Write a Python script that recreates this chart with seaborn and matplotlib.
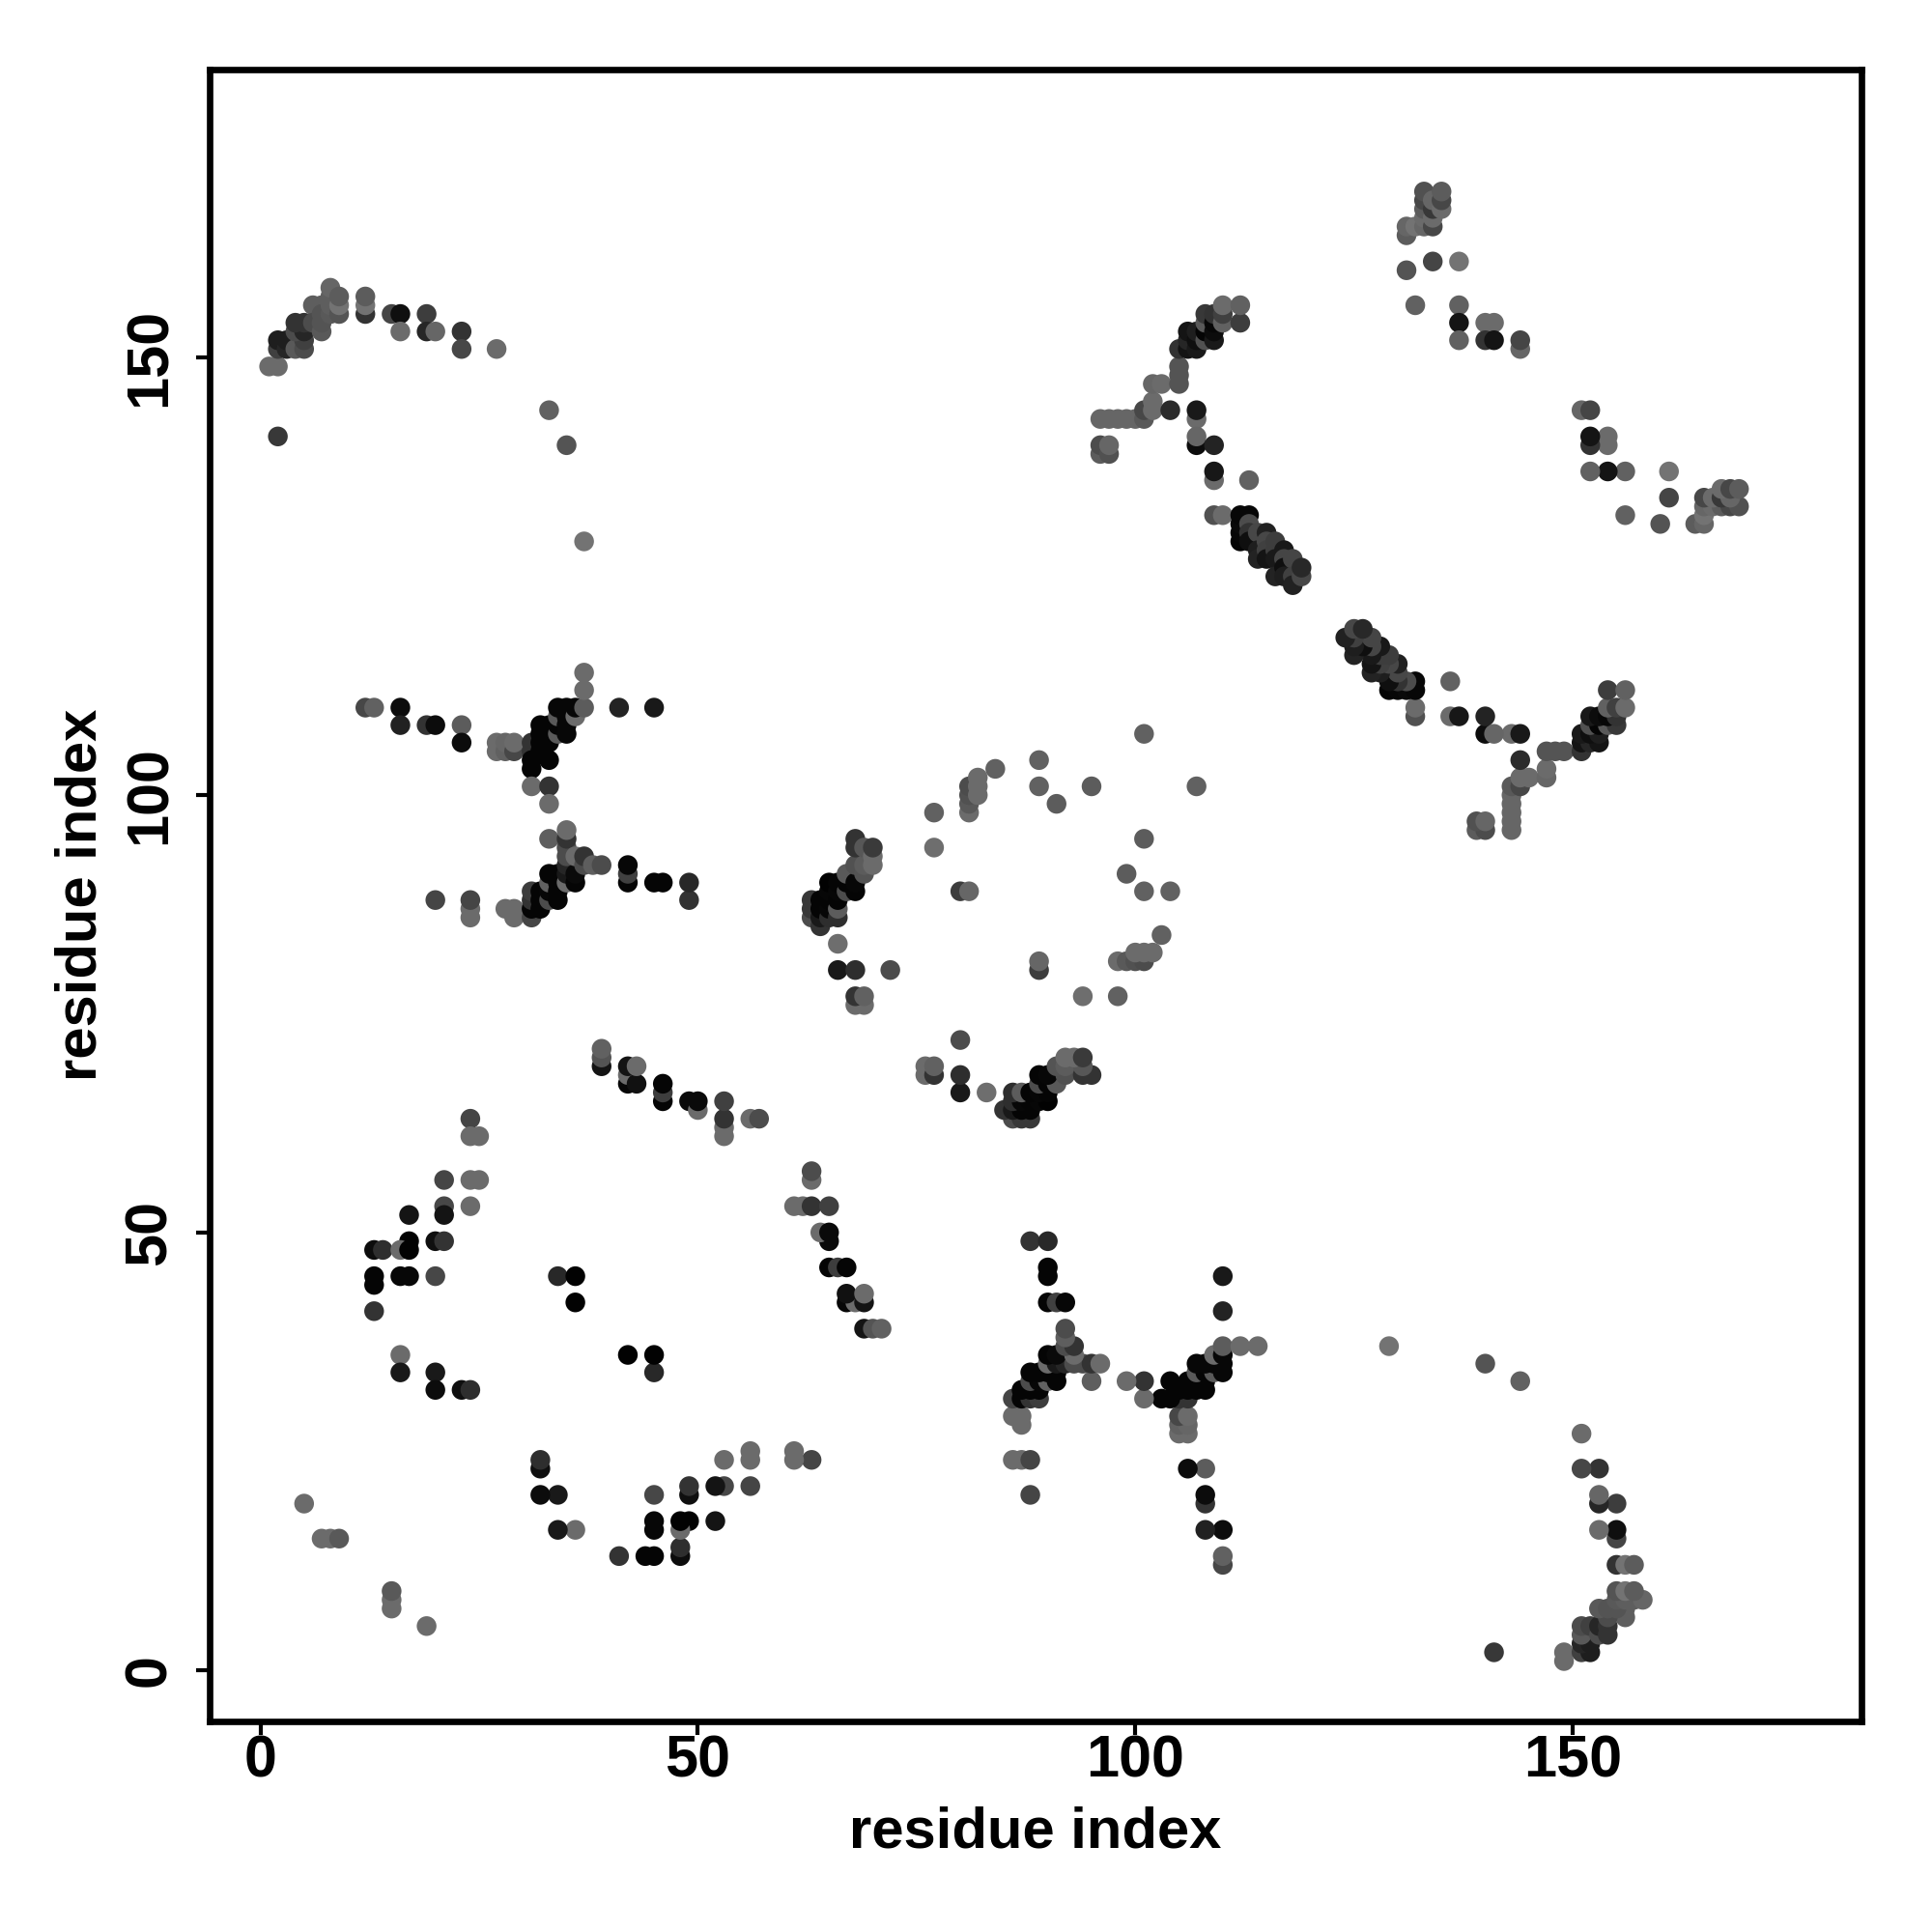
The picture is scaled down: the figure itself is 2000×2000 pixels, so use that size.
import pandas as pd
import matplotlib
matplotlib.use("Agg")
import matplotlib.pyplot as plt
import seaborn as sns

# contacts as (residue i, residue j, grey level), read for i < j only: the map is symmetric
arc_top_left = [
    (1,149,.42),(2,149,.42),(2,141,.22),(2,151,.25),(2,152,.12),(3,151,.15),(3,152,.12),
    (4,151,.35),(5,151,.3),(5,152,.25),(4,153,.3),(5,153,.15),(4,154,.2),(5,154,.2),
    (6,156,.37),(7,156,.37),(6,154,.3),(7,153,.35),(7,154,.33),(7,155,.33),
    (8,155,.35),(8,156,.37),(8,157,.37),(8,158,.4),(9,155,.33),(9,156,.45),(9,157,.36),
    (12,155,.2),(12,156,.45),(12,157,.36),(15,155,.27),(16,155,.06),(16,153,.42),
    (19,155,.24),(19,153,.15),(20,153,.4),(23,153,.2),(23,151,.28),(27,151,.42),
    (33,144,.38),(35,140,.33),(37,129,.45),
]
upper_wing = [
    (12,110,.28),(13,110,.38),(16,110,.05),(16,108,.13),(19,108,.2),(20,108,.05),
    (23,108,.36),(23,106,.05),(27,105,.42),(27,106,.42),(28,105,.38),(28,106,.4),
    (29,105,.28),(29,106,.42),(31,106,.2),(31,105,.2),(31,104,.02),(31,103,.02),
    (31,101,.42),(33,101,.2),(33,99,.42),(32,105,.02),(32,106,.02),(32,107,.02),(32,108,.02),
    (33,104,.02),(33,106,.02),(33,107,.02),(33,108,.02),(34,107,.35),(34,108,.02),
    (34,109,.35),(34,110,.03),(35,107,.03),(35,108,.03),(35,109,.03),(35,110,.03),
    (36,109,.42),(36,110,.03),(37,110,.36),(37,112,.42),(37,114,.42),(41,110,.14),(45,110,.1),
]
lower_wing = [
    (20,88,.27),(24,86,.42),(24,87,.42),(24,88,.27),(28,87,.42),(29,86,.42),(29,87,.42),
    (31,86,.27),(31,87,.02),(31,88,.2),(31,89,.24),(32,87,.02),(32,88,.02),(32,89,.02),
    (33,88,.3),(33,89,.03),(33,90,.38),(33,91,.02),(34,88,.02),(34,89,.02),(34,90,.02),(34,91,.02),
    (33,95,.37),(35,90,.42),(35,91,.1),(35,92,.15),(35,93,.3),(35,94,.3),(35,95,.2),(35,96,.42),
    (36,90,.02),(36,91,.04),(36,93,.42),(37,92,.3),(37,93,.2),(38,92,.37),(39,92,.3),
    (42,90,.02),(42,91,.25),(42,92,.03),(45,90,.02),(46,90,.02),(49,88,.2),(49,90,.16),
]
upper_right_arm = [
    (96,139,.36),(96,140,.3),(97,139,.32),(97,140,.4),(96,143,.4),(97,143,.4),(98,143,.4),
    (99,143,.4),(100,143,.4),(101,143,.35),(101,144,.28),(102,144,.42),(102,145,.42),
    (102,147,.4),(103,147,.42),(104,144,.17),(105,147,.33),(105,148,.33),(105,149,.33),
    (105,151,.2),(106,151,.08),(106,152,.15),(106,153,.08),(107,151,.1),(107,152,.06),
    (107,153,.12),(108,152,.32),(108,153,.02),(108,154,.35),(108,155,.22),(109,152,.1),
    (109,153,.05),(109,154,.03),(109,155,.2),(110,154,.38),(110,155,.25),(110,156,.42),
    (112,154,.24),(112,156,.38),(107,143,.42),(107,144,.1),(107,140,.05),
    (107,141,.4),(109,140,.14),(109,136,.42),(109,137,.09),(113,136,.38),(109,132,.32),(110,132,.42),
]
anti_diagonal = [
    (112,129,.02),(112,130,.03),(112,131,.04),(112,132,.03),(113,132,.03),(113,131,.3),
    (113,130,.2),(113,129,.06),(114,130,.28),(114,128,.12),(114,127,.14),(115,130,.13),
    (115,129,.28),(115,128,.25),(115,127,.08),(116,129,.24),(116,128,.24),(116,127,.1),
    (116,125,.14),(117,128,.1),(117,127,.27),(117,126,.06),(117,125,.12),(118,127,.27),
    (118,125,.25),(118,124,.13),(119,125,.28),(119,126,.16),
]
far_top = [
    (131,164,.36),(131,165,.4),(132,165,.45),(133,165,.4),(133,166,.42),(133,167,.36),
    (133,168,.28),(133,169,.32),(134,165,.28),(134,166,.42),(134,167,.22),(134,168,.4),
    (135,167,.42),(135,168,.28),(135,169,.36),(131,160,.33),(134,161,.27),(137,161,.45),
    (132,156,.38),(137,156,.38),(137,154,.08),(137,152,.38),(140,154,.42),(141,154,.42),
    (140,152,.2),(141,152,.08),(144,151,.4),(144,152,.27),
]
# residues 63-72 against 76-95, then the ring around 90
ring = [
    (63,86,.3),(63,87,.22),(63,88,.22),(64,85,.2),(64,86,.1),(64,87,.02),(64,88,.02),
    (65,86,.18),(65,87,.03),(65,88,.02),(65,89,.03),(65,90,.01),(66,86,.18),(66,87,.36),
    (66,88,.02),(66,89,.03),(66,90,.02),(67,89,.3),(67,90,.02),(67,91,.35),(68,89,.02),
    (68,90,.03),(68,92,.32),(69,91,.33),(69,92,.36),(68,94,.2),(68,95,.2),(69,94,.34),
    (70,92,.42),(70,93,.42),(70,94,.23),(66,83,.43),(66,80,.1),(68,80,.18),(72,80,.3),
    (68,76,.42),(69,76,.42),(68,77,.2),(69,77,.38),
    (77,94,.43),(77,98,.38),(81,98,.42),(81,99,.35),(81,100,.32),(81,101,.3),
    (82,100,.42),(82,101,.42),(82,102,.42),(84,103,.38),(89,101,.38),(89,104,.38),
    (91,99,.36),(95,101,.36),(80,89,.24),(81,89,.4),(101,107,.38),
]
strand = [
    (39,69,.08),(39,70,.33),(39,71,.38),(42,67,.03),(42,68,.42),(42,69,.08),(43,67,.07),(43,69,.42),
    (46,65,.02),(46,66,.24),(46,67,.02),(49,65,.04),(50,64,.42),(50,65,.04),(53,61,.42),
    (53,62,.42),(53,63,.2),(53,65,.25),(56,63,.42),(57,63,.3),
]
low_left = [
    (5,19,.42),(7,15,.42),(8,15,.42),(9,15,.35),
    (24,63,.27),(24,61,.42),(25,61,.42),(21,56,.27),(24,56,.42),(25,56,.42),(21,53,.28),
    (24,53,.42),(17,52,.08),(21,52,.08),(20,49,.06),(21,49,.2),(17,49,.01),(13,48,.05),
    (14,48,.18),(16,48,.42),(17,48,.01),(13,44,.02),(13,45,.02),(16,45,.03),(17,45,.03),
    (20,45,.28),(13,41,.2),(34,45,.16),(36,45,.01),(36,42,.01),(16,36,.42),(16,34,.1),
    (20,34,.1),(20,32,.05),(23,32,.06),(24,32,.18),
]

contacts = pd.DataFrame(
    arc_top_left + upper_wing + lower_wing + upper_right_arm + anti_diagonal
    + far_top + ring + strand + low_left,
    columns=["i", "j", "shade"],
)
mirrored = contacts.rename(columns={"i": "j", "j": "i"})
all_contacts = pd.concat([contacts, mirrored], ignore_index=True)

sns.set_theme(style="white")
plt.rcParams["font.family"] = ["Liberation Sans", "DejaVu Sans"]
plt.rcParams["font.weight"] = "bold"

fig = plt.figure(figsize=(10, 10), dpi=200)
ax = fig.add_axes([217 / 2000, 1 - 1782 / 2000, 1710 / 2000, 1710.5 / 2000])

sns.scatterplot(data=all_contacts, x="i", y="j", hue="shade", palette="gray",
                hue_norm=(0, 1), s=54, linewidth=0, legend=False, ax=ax)

ax.set_xlim(-5.8, 183)
ax.set_ylim(-5.9, 183)
ax.set_xticks([0, 50, 100, 150])
ax.set_yticks([0, 50, 100, 150])
ax.tick_params(axis="both", length=5, width=1.5, color="black", labelsize=22,
               labelcolor="black", bottom=True, left=True)
ax.tick_params(axis="x", pad=0)
ax.tick_params(axis="y", pad=6.7)
for lab in ax.get_yticklabels():
    lab.set_rotation(90)
    lab.set_va("center")
ax.set_xlabel("residue index", fontsize=21.5, fontweight="bold", color="black", labelpad=6)
ax.set_ylabel("residue index", fontsize=21.5, fontweight="bold", color="black", labelpad=5.7)
for s in ax.spines.values():
    s.set_visible(True)
    s.set_color("black")
    s.set_linewidth(2.4)

fig.savefig("out.png", dpi=200)
